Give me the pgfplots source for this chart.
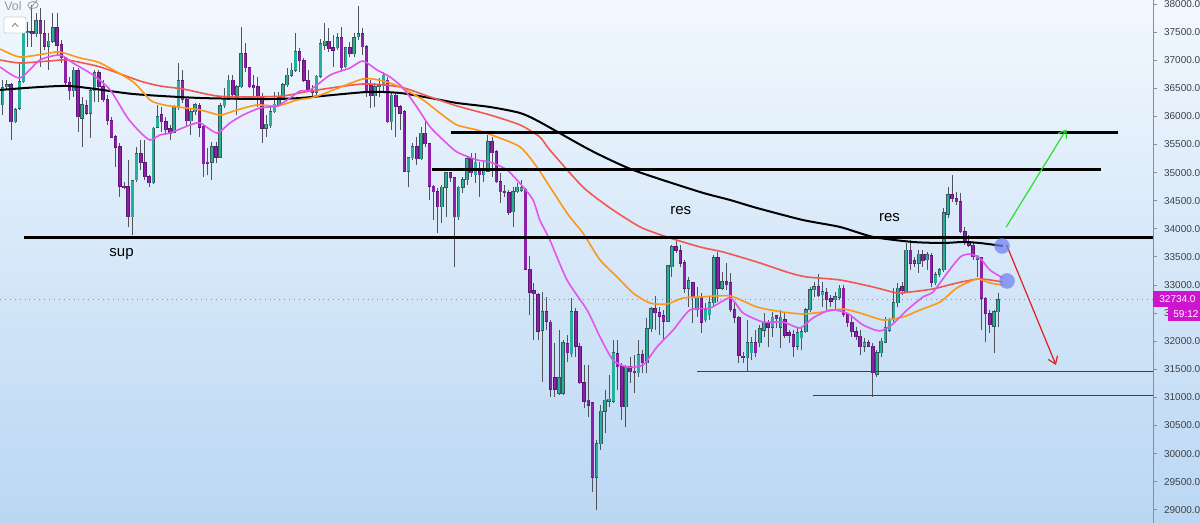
\documentclass[border=0pt]{standalone}
\usepackage{pgfplots}
\pgfplotsset{compat=1.18}
\usepackage{pgfplotstable}
\usetikzlibrary{arrows.meta}
\usepackage{fontspec}
\setmainfont{Liberation Sans}

\definecolor{upc}{RGB}{40,174,156}
\definecolor{upb}{RGB}{58,88,88}
\definecolor{dnc}{RGB}{140,32,168}
\definecolor{dnb}{RGB}{92,24,112}
\definecolor{wickc}{RGB}{80,84,90}
\definecolor{ma100}{RGB}{240,88,80}
\definecolor{ma50}{RGB}{255,150,20}
\definecolor{ma20}{RGB}{226,84,236}
\definecolor{bgtop}{RGB}{242,248,254}
\definecolor{bgbot}{RGB}{186,215,243}
\definecolor{magbox}{RGB}{206,20,206}
\definecolor{tickc}{RGB}{60,64,72}
\definecolor{circb}{RGB}{112,128,242}
\definecolor{arrg}{RGB}{40,225,40}
\definecolor{arrr}{RGB}{225,30,30}

\pgfplotstableread{
i o h l c
0 36203 36647 36025 36505
1 36523 36647 36469 36559
2 36559 36594 35580 35900
3 35900 36149 35882 36114
4 36149 36968 36114 36612
5 36612 37502 36594 37484
6 37484 37680 37235 37502
7 37502 37982 37235 37466
8 37466 37840 37413 37697
9 37697 37929 36879 37466
10 37466 37715 37181 37252
11 37252 37484 36825 37341
12 37341 37840 37306 37573
13 37573 37840 37092 37270
14 37270 37359 36950 37039
15 37039 37057 36559 36594
16 36594 36701 36292 36452
17 36452 36879 36345 36825
18 36808 36861 35722 35989
19 35971 36345 35455 36203
20 36185 36292 36025 36060
21 36060 36505 35615 36452
22 36452 36825 36256 36772
23 36772 36825 36256 36523
24 36523 36647 36256 36292
25 36292 36381 35847 35918
26 35918 35989 35615 35633
27 35633 35669 35099 35455
28 35455 35527 34566 34761
29 34761 34833 34708 34726
30 34744 35224 34032 34210
31 34210 34868 33889 34850
32 34868 35455 34833 35331
33 35331 35580 35046 35171
34 35171 35580 34868 34922
35 34922 34957 34744 34815
36 34815 35811 34797 35793
37 35811 36203 35793 35989
38 36025 36167 35722 35900
39 35900 35989 35669 35758
40 35776 35847 35580 35704
41 35722 36203 35704 36167
42 36167 36950 36114 36630
43 36630 36825 36238 36292
44 36292 36345 35811 35918
45 35918 36149 35669 36078
46 36078 36238 36025 36203
47 36185 36238 35633 35811
48 35811 35847 34922 35153
49 35188 35437 34957 35153
50 35188 35544 34868 35455
51 35455 35544 35171 35277
52 35277 36238 35260 36185
53 36185 36505 36149 36309
54 36309 36736 36292 36647
55 36647 36736 36345 36381
56 36292 36559 36025 36523
57 36523 37591 36505 37110
58 37110 37306 36790 36861
59 36861 36879 36505 36523
60 36541 36736 36345 36505
61 36523 36701 36167 36345
62 36345 36416 35527 35793
63 35793 36025 35633 35864
64 35829 36167 35793 36078
65 36078 36434 36060 36220
66 36220 36434 36167 36327
67 36327 36594 36292 36559
68 36559 36861 36523 36736
69 36736 36950 36701 36825
70 36825 37484 36790 37146
71 37146 37217 36790 36986
72 36986 37039 36612 36647
73 36647 36825 36434 36487
74 36469 36559 36345 36416
75 36433 36736 36380 36718
76 36718 37377 36683 37288
77 37270 37662 37181 37341
78 37341 37573 37146 37199
79 37217 37448 36879 37181
80 37217 37484 37181 37395
81 37395 37591 36790 36861
82 36879 37235 36861 37217
83 37217 37324 37057 37110
84 37110 37484 37057 37395
85 37413 37964 37359 37466
86 37466 37573 37092 37235
87 37235 37270 36345 36433
88 36541 36647 36149 36363
89 36363 36594 36167 36523
90 36523 36683 36345 36541
91 36541 36790 36433 36736
92 36647 36701 35882 35900
93 35900 36416 35758 36380
94 36380 36416 35633 36167
95 36167 36203 35758 36060
96 36078 36114 35011 35028
97 35028 35277 34743 35260
98 35260 35527 35224 35455
99 35455 35633 35135 35242
100 35242 35811 35224 35704
101 35704 35936 35455 35509
102 35509 35527 34512 34761
103 34761 34779 34156 34655
104 34655 34726 33925 34388
105 34388 34779 34103 34743
106 34743 35011 34210 34993
107 34993 35011 34833 34904
108 34904 34922 33320 34210
109 34210 34760 34156 34743
110 34743 34922 34637 34868
111 34868 35277 34779 35242
112 35242 35349 34922 34993
113 34957 35349 34815 35188
114 35011 35188 34566 34957
115 34957 35188 34833 35046
116 35028 35669 35011 35544
117 35544 35633 34922 35349
118 35366 35402 34815 34833
119 34833 34993 34459 34655
120 34672 34779 34566 34637
121 34637 34690 34245 34281
122 34299 34743 34032 34655
123 34655 34815 34637 34743
124 34690 34868 34655 34726
125 34690 34726 33267 33284
126 33284 33516 32466 32875
127 32893 33036 32021 32840
128 32822 32858 32021 32181
129 32199 32875 31274 32520
130 32520 32786 32199 32359
131 32341 32377 31007 31149
132 31345 31968 31007 31149
133 31078 32199 31042 31345
134 31078 32021 31042 31968
135 31950 32110 31629 31790
136 31772 32768 31719 32520
137 32520 32591 31719 31914
138 31914 31968 31240 31256
139 31256 31576 30811 30935
140 30953 31576 30651 30864
141 30900 30917 29317 29583
142 29583 30242 28996 30171
143 30171 30864 30064 30757
144 30757 31131 30367 30953
145 30935 31398 30829 30971
146 30935 32021 30900 31790
147 31772 32021 31131 31541
148 31541 31612 30598 30829
149 30829 31576 30473 31541
150 31541 31719 31256 31452
151 31469 31754 31078 31434
152 31434 32021 31363 31754
153 31754 31843 31434 31612
154 31612 32413 31434 32217
155 32217 32608 32164 32573
156 32573 32804 32199 32502
157 32502 32608 32110 32448
158 32448 32555 32021 32359
159 32359 33356 32341 33338
160 33320 33711 33142 33676
161 33676 33836 33569 33622
162 33605 33711 33320 33391
163 33391 33445 32858 32946
164 32946 33142 32608 33071
165 33036 33053 32324 32786
166 32555 32964 32430 32768
167 32786 32858 32146 32341
168 32377 32680 32341 32555
169 32466 32786 32377 32680
170 32680 33534 32608 33480
171 33480 33587 32697 32946
172 32946 33231 32911 33053
173 33053 33391 32911 33000
174 33036 33213 32520 32555
175 32555 32680 32324 32430
176 32430 32448 31612 31754
177 31736 31807 31612 31701
178 31701 32377 31452 31968
179 31790 32075 31665 31968
180 31968 32199 31719 31790
181 31968 32288 31897 32217
182 32199 32502 32075 32341
183 32341 32377 31897 32252
184 32252 32520 32075 32430
185 32448 32466 32235 32395
186 32252 32555 31879 32430
187 32377 32520 32057 32110
188 32146 32199 31968 32110
189 32110 32199 31719 31914
190 31914 32252 31843 32146
191 32057 32252 31843 32164
192 32164 32591 32146 32555
193 32555 32964 32520 32911
194 32911 33053 32786 32964
195 32964 33196 32786 32804
196 32822 33053 32608 32875
197 32858 32946 32555 32733
198 32751 32822 32608 32715
199 32733 32875 32555 32786
200 32786 33000 32733 32946
201 32946 33000 32430 32466
202 32466 32502 32252 32324
203 32341 32430 32075 32164
204 32164 32252 32021 32075
205 32092 32199 31754 31897
206 31914 32057 31807 31968
207 31968 32021 31897 31914
208 31914 31968 31007 31434
209 31416 31843 31363 31790
210 31790 32057 31719 32003
211 31985 32430 31968 32235
212 32199 32413 32164 32377
213 32377 32946 32341 32680
214 32680 33036 32608 32946
215 32964 33053 32822 32893
216 32875 33747 32858 33622
217 33622 33800 33267 33391
218 33427 33498 33320 33391
219 33391 33622 33213 33551
220 33551 33622 33320 33427
221 33445 33587 33267 33534
222 33516 33569 32964 33053
223 33036 33231 33000 33178
224 33178 33302 33142 33267
225 33267 34370 33231 34281
226 34263 34743 34192 34601
227 34601 34957 34477 34530
228 34530 34655 34423 34477
229 34477 34637 33925 33943
230 33943 34032 33711 33765
231 33765 33889 33676 33711
232 33711 33747 33445 33498
233 33462 33534 33142 33498
234 33480 33498 32199 32768
235 32768 32786 31985 32484
236 32484 32555 32146 32288
237 32270 32555 31790 32520
238 32520 32858 32252 32734
}\candles

\pgfplotsset{candle/.style={draw=none, mark=none, forget plot, error bars/.cd, y dir=plus, y explicit, error mark=none}}

\begin{document}
\begin{tikzpicture}
\shade[top color=bgtop, bottom color=bgbot] (0pt,0pt) rectangle (600pt,261.5pt);
\begin{axis}[
  at={(0pt,0pt)}, anchor=south west,
  width=576.5pt, height=261.5pt, scale only axis,
  xmin=-0.65, xmax=275, ymin=28765, ymax=38071,
  axis line style={draw=none},
  xtick=\empty,
  ytick={29000,29500,30000,30500,31000,31500,32000,32500,33000,33500,34000,34500,35000,35500,36000,36500,37000,37500,38000},
  scaled y ticks=false,
  ytick pos=right, yticklabel pos=right,
  tick align=outside, major tick length=2pt,
  every tick/.style={tickc!60, line width=0.4pt},
  yticklabel style={font=\fontsize{5}{6}\selectfont, text=tickc, /pgf/number format/.cd, fixed, fixed zerofill, precision=1, 1000 sep={}, assume math mode=true},
  clip=false,
]
% last price line
\draw[magbox!70, dotted, line width=0.45pt] (axis cs:-0.65,32734) -- (axis cs:275,32734);

% wicks
\addplot[candle, error bar style={line width=0.5pt, draw=wickc}]
  table[x=i, y=l, y error plus expr=\thisrow{h}-\thisrow{l}] {\candles};
% body borders
\addplot[candle, error bar style={line width=1.75pt, draw=upb}]
  table[x=i, y expr=\thisrow{o}-9, y error plus expr={\thisrow{c}>\thisrow{o} ? \thisrow{c}-\thisrow{o}+18 : 0}] {\candles};
\addplot[candle, error bar style={line width=1.75pt, draw=dnb}]
  table[x=i, y expr=\thisrow{c}-9, y error plus expr={\thisrow{o}>\thisrow{c} ? \thisrow{o}-\thisrow{c}+18 : 0}] {\candles};
% bodies
\addplot[candle, error bar style={line width=1.15pt, draw=upc}]
  table[x=i, y=o, y error plus expr={max(\thisrow{c}-\thisrow{o},0)}] {\candles};
\addplot[candle, error bar style={line width=1.15pt, draw=dnc}]
  table[x=i, y=c, y error plus expr={max(\thisrow{o}-\thisrow{c},0)}] {\candles};

% moving averages
\addplot[black, line width=1pt, smooth, tension=0.4] coordinates {
(-0.6,36470) (15.4,36541) (31.2,36398) (47.2,36327) (63.2,36309) (71.1,36327) (87.1,36434) (95.0,36416) (102.2,36327) (108.6,36238) (116.5,36167) (123.7,36060) (128.4,35900) (140.4,35402) (150.7,35046) (166.7,34655) (173.9,34512) (180.3,34370) (191.3,34156) (200.2,34032) (208.1,33854) (217.6,33765) (224.8,33747) (229.6,33765) (233.6,33747) (239.1,33694)};
\addplot[ma100, line width=0.8pt, smooth, tension=0.4] coordinates {
(-0.6,37003) (4.1,36950) (11.3,36986) (15.4,37003) (23.3,36879) (32.8,36630) (37.6,36541) (43.1,36487) (51.2,36363) (59.1,36345) (67.0,36363) (73.5,36450) (86.1,36576) (95.0,36523) (102.2,36345) (108.6,36185) (116.5,36025) (123.7,35847) (128.4,35633) (130.8,35402) (138.7,34744) (145.2,34370) (152.4,34032) (158.8,33854) (166.7,33676) (172.2,33587) (180.3,33409) (188.2,33213) (192.3,33142) (200.2,33089) (208.1,32964) (213.8,32857) (216.9,32875) (222.4,32929) (228.1,33035) (233.6,33107) (239.1,33053)};
\addplot[ma50, line width=0.8pt, smooth, tension=0.4] coordinates {
(-0.6,37199) (4.1,37057) (11.3,37128) (13.7,37146) (18.5,37039) (23.3,36950) (31.2,36612) (35.2,36292) (37.6,36220) (40.0,36185) (47.2,36114) (52.0,36025) (56.0,36114) (60.8,36203) (65.6,36185) (70.4,36292) (73.5,36327) (76.6,36398) (86.1,36665) (90.9,36630) (95.0,36523) (100.5,36292) (104.5,36060) (108.6,35847) (113.4,35758) (118.2,35633) (123.7,35455) (127.7,35099) (134.9,34281) (138.7,33925) (142.8,33445) (146.9,33142) (150.7,32857) (154.7,32679) (158.8,32662) (162.6,32768) (166.7,32786) (173.9,32804) (180.3,32608) (186.5,32519) (191.3,32484) (196.1,32519) (200.9,32573) (205.7,32484) (210.5,32377) (215.2,32430) (219.3,32555) (224.1,32697) (228.1,32946) (232.9,33107) (236.0,33035) (239.1,33000)};
\addplot[ma20, line width=0.8pt, smooth, tension=0.4] coordinates {
(-0.6,36879) (4.1,36683) (8.9,37003) (13.7,37092) (16.8,36950) (21.6,36736) (25.7,36470) (29.7,35989) (32.8,35722) (35.2,35580) (37.6,35669) (40.0,35704) (44.8,35847) (47.2,35882) (51.2,35704) (54.3,35882) (57.5,36025) (61.5,36149) (65.6,36185) (68.7,36327) (71.1,36452) (73.5,36470) (78.3,36736) (83.0,36861) (86.1,36986) (89.5,36825) (92.6,36701) (95.7,36505) (99.0,36167) (102.2,35811) (105.3,35580) (108.6,35366) (113.4,35224) (116.5,35188) (120.6,35046) (124.4,34744) (126.8,34512) (128.4,34157) (130.8,33802) (134.9,33089) (139.7,32555) (142.8,32075) (145.9,31665) (149.2,31541) (153.1,31576) (156.4,31896) (160.3,32199) (164.3,32555) (169.1,32590) (173.9,32768) (177.0,32502) (181.8,32341) (186.5,32341) (190.6,32235) (193.7,32413) (197.8,32555) (201.8,32502) (205.7,32288) (209.7,32181) (212.8,32306) (216.2,32555) (220.0,32786) (222.4,32875) (225.8,33213) (228.9,33498) (231.2,33551) (233.6,33480) (236.0,33267) (239.1,33124)};

% horizontal levels
\draw[line width=1.5pt] (axis cs:107.2,35720) -- (axis cs:266.6,35720);
\draw[line width=1.5pt] (axis cs:102.6,35046) -- (axis cs:262.6,35046);
\draw[line width=1.5pt] (axis cs:5.1,33850) -- (axis cs:275,33850);
\draw[line width=0.5pt, black!75] (axis cs:166,31452) -- (axis cs:275,31452);
\draw[line width=0.5pt, black!75] (axis cs:193.7,31025) -- (axis cs:275,31025);

% circles
\addplot[only marks, mark=*, mark size=3.9pt, mark options={fill=circb, draw=circb, line width=0pt, fill opacity=0.72, draw opacity=0}] coordinates {(238.9,33694) (240.1,33071)};

% arrows
\draw[arrg, line width=0.6pt, -{Straight Barb[length=3.5pt,width=5pt]}] (axis cs:239.9,34030) -- (axis cs:254.3,35770);
\draw[arrr, line width=0.6pt, -{Straight Barb[length=3.5pt,width=5pt]}] (axis cs:240.0,33711) -- (axis cs:251.8,31576);

% labels
\node[font=\fontsize{7.5}{8.5}\selectfont] at (axis cs:28.4,33551) {sup};
\node[font=\fontsize{7.5}{8.5}\selectfont] at (axis cs:162.1,34316) {res};
\node[font=\fontsize{7.5}{8.5}\selectfont] at (axis cs:212.0,34201) {res};
\end{axis}
% right axis line
\draw[tickc!60, line width=0.4pt] (576.5pt,0pt) -- (576.5pt,261.5pt);
% price labels
\fill[magbox] (576.5pt,108pt) rectangle (600pt,116pt);
\node[anchor=west, inner sep=0pt, text=white, font=\fontsize{5}{6}\selectfont] at (579.5pt,112pt) {32734.0};
\fill[magbox] (584pt,101pt) rectangle (600pt,108.3pt);
\node[anchor=west, inner sep=0pt, text=white, font=\fontsize{5}{6}\selectfont] at (586.5pt,104.6pt) {59:12};
% top-left widgets
\node[anchor=west, inner sep=0pt, text=gray!80, font=\fontsize{6.2}{7}\selectfont] at (2pt,258.3pt) {Vol};
\draw[gray!80, line width=0.4pt] (16.5pt,259pt) ellipse (2.6pt and 1.7pt);
\draw[gray!80, line width=0.4pt] (14.8pt,256.8pt) -- (18.4pt,261.4pt);
\draw[fill=white, draw=gray!35, line width=0.4pt, rounded corners=1pt] (2pt,245pt) rectangle (13pt,253pt);
\draw[gray!90, line width=0.5pt] (6pt,248.2pt) -- (7.5pt,249.8pt) -- (9pt,248.2pt);
\pgfresetboundingbox
\useasboundingbox (0pt,0pt) rectangle (600pt,261.5pt);
\end{tikzpicture}
\end{document}
